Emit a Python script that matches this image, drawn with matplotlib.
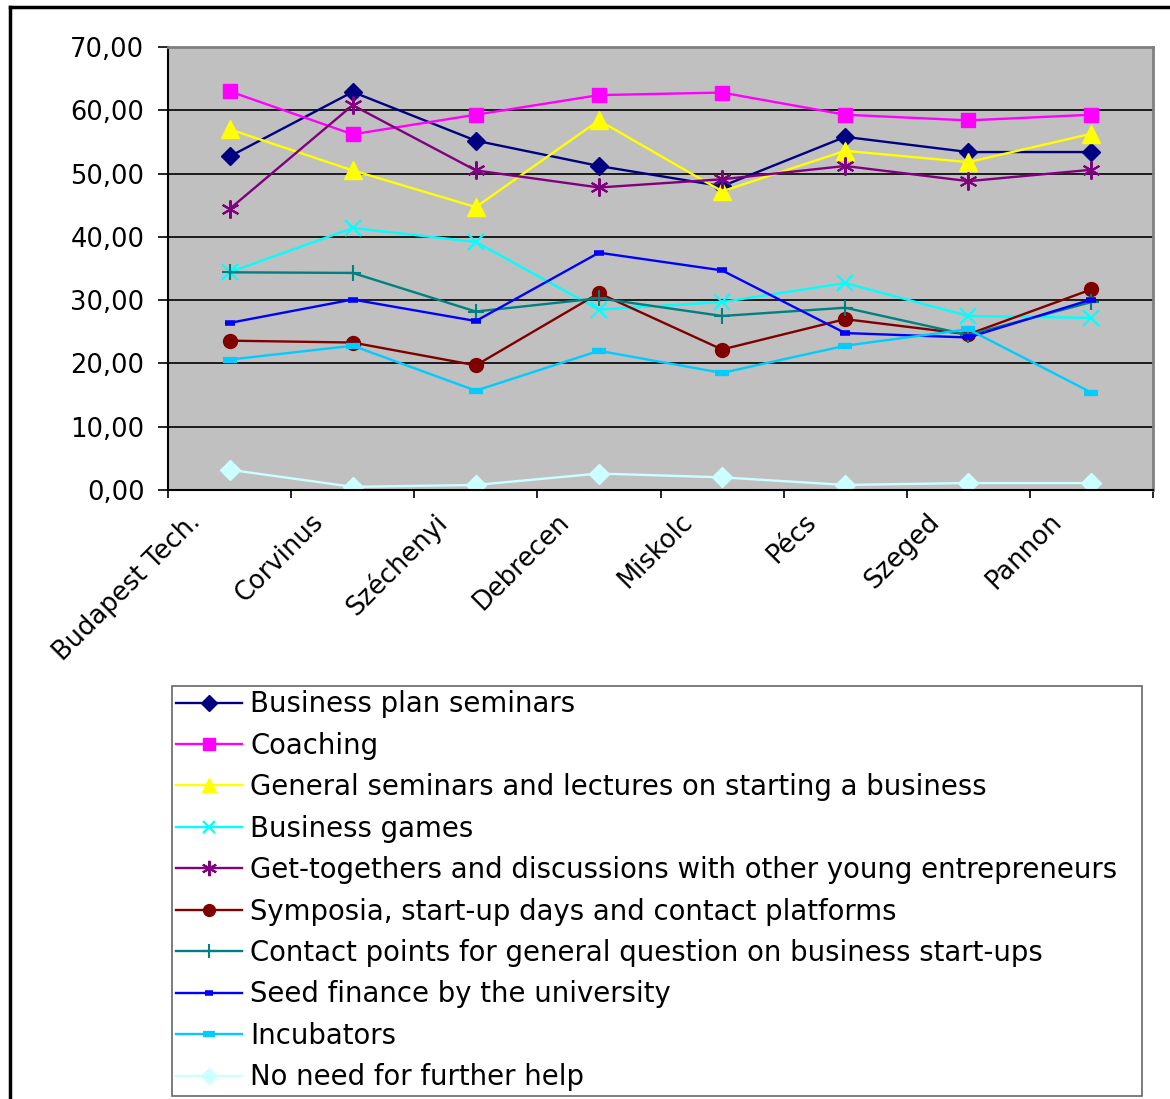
import numpy as np
import matplotlib
matplotlib.use("Agg")
import matplotlib.pyplot as plt
import matplotlib.transforms as mtransforms
from matplotlib.lines import Line2D
from matplotlib.ticker import FuncFormatter

plt.rcParams['font.family'] = ['DejaVu Sans']

universities = ["Budapest Tech.", "Corvinus", "Széchenyi", "Debrecen",
                "Miskolc", "Pécs", "Szeged", "Pannon"]

business_plan = [52.7, 62.9, 55.2, 51.2, 48.0, 55.8, 53.4, 53.4]
coaching = [63.0, 56.2, 59.3, 62.4, 62.8, 59.3, 58.4, 59.3]
general_seminars = [57.0, 50.5, 44.7, 58.4, 47.2, 53.6, 51.8, 56.3]
business_games = [34.4, 41.4, 39.2, 28.5, 29.7, 32.7, 27.5, 27.2]
get_togethers = [44.4, 60.8, 50.5, 47.8, 49.1, 51.2, 48.8, 50.6]
symposia = [23.6, 23.3, 19.7, 31.1, 22.2, 27.0, 24.6, 31.7]
contact_points = [34.4, 34.3, 28.2, 30.3, 27.5, 28.8, 24.5, 29.7]
seed_finance = [26.4, 30.1, 26.7, 37.5, 34.7, 24.8, 24.1, 30.1]
incubators = [20.6, 22.8, 15.7, 22.0, 18.5, 22.8, 25.4, 15.4]
no_need = [3.2, 0.5, 0.8, 2.6, 2.0, 0.8, 1.1, 1.1]

series = [
    ("Business plan seminars", business_plan, "#000080", dict(marker="D", ms=9)),
    ("Coaching", coaching, "#FF00FF", dict(marker="s", ms=10.5)),
    ("General seminars and lectures on starting a business", general_seminars, "#FFFF00", dict(marker="^", ms=12.5)),
    ("Business games", business_games, "#00FFFF", dict(marker="x", ms=11, mew=1.6)),
    ("Get-togethers and discussions with other young entrepreneurs", get_togethers, "#800080", dict(marker=(6, 2, 0), ms=13, mew=1.5)),
    ("Symposia, start-up days and contact platforms", symposia, "#800000", dict(marker="o", ms=10)),
    ("Contact points for general question on business start-ups", contact_points, "#008080", dict(marker="+", ms=12, mew=1.5)),
    ("Seed finance by the university", seed_finance, "#0000FF", dict(marker="_", ms=7, mew=4)),
    ("Incubators", incubators, "#00CCFF", dict(marker="_", ms=10, mew=4.5)),
    ("No need for further help", no_need, "#CCFFFF", dict(marker="D", ms=10)),
]

W, H = 1170, 1099
fig = plt.figure(figsize=(W / 100, H / 100), dpi=100)
ax = fig.add_axes([168 / W, 1 - 490 / H, (1153 - 168) / W, (490 - 47) / H])
ax.set_facecolor("#C0C0C0")

x = np.arange(len(universities)) + 0.5
handles = []
for name, vals, col, mk in series:
    ln, = ax.plot(x, vals, color=col, lw=1.7, mec=col, mfc=col, label=name, **mk)
    handles.append(ln)

ax.set_xlim(0, len(universities))
ax.set_ylim(0, 70)
ax.set_yticks(np.arange(0, 71, 10))
ax.yaxis.set_major_formatter(FuncFormatter(lambda v, p: f"{v:.2f}".replace(".", ",")))
ax.grid(axis="y", color="black", lw=1.2)
ax.set_axisbelow(True)

ax.set_xticks(np.arange(0, len(universities) + 1))
ax.set_xticklabels([])
ax.set_xticks(x, minor=True)
ax.set_xticklabels(universities, minor=True, rotation=45, ha="right", va="center",
                   rotation_mode="anchor", fontsize=18.5)
ax.tick_params(axis="x", which="minor", length=0, pad=0)
ax.tick_params(axis="x", which="major", length=6, width=1.2, direction="out")
ax.tick_params(axis="y", length=7, width=1.2, direction="out", labelsize=18.5, pad=10)

# shift the rotated labels so they end just below-left of each point
shift = mtransforms.ScaledTranslation(-33 / 100, -28 / 100, fig.dpi_scale_trans)
for lab in ax.get_xticklabels(minor=True):
    lab.set_transform(lab.get_transform() + shift)

for side in ("left", "bottom"):
    ax.spines[side].set_color("black")
    ax.spines[side].set_linewidth(1.5)
for side in ("top", "right"):
    ax.spines[side].set_color("#808080")
    ax.spines[side].set_linewidth(2)

leg = fig.legend(handles=handles, loc="upper left",
                 bbox_to_anchor=(172 / W, 1 - 686 / H, (1142 - 172) / W, 0),
                 mode="expand", fontsize=19.8, frameon=True, fancybox=False,
                 edgecolor="#404040", borderaxespad=0, borderpad=0.15,
                 labelspacing=0.49, handlelength=2.4, handletextpad=0.3,
                 markerscale=0.85)
leg.get_frame().set_linewidth(1.2)

# outer chart frame
fig.add_artist(Line2D([10 / W, 1], [1 - 7 / H, 1 - 7 / H], color="black", lw=2.5,
                      transform=fig.transFigure))
fig.add_artist(Line2D([10 / W, 10 / W], [1 - 7 / H, 0], color="black", lw=2.5,
                      transform=fig.transFigure))

fig.savefig("out.png", dpi=100)
